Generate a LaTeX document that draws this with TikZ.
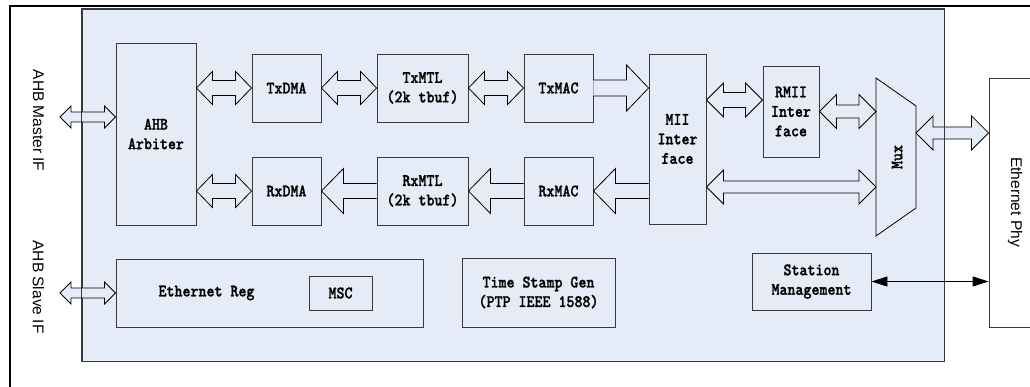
\documentclass[tikz,border=0pt]{standalone}
\usepackage{fontspec}
\usetikzlibrary{calc,arrows.meta}
\newfontfamily\simfont[FakeStretch=0.87,FakeBold=1.2]{lmmonolt10-bold.otf}
\newfontfamily\arialfont{Liberation Sans}
\definecolor{bgblue}{HTML}{E6ECF7}
\definecolor{edgegray}{HTML}{3A3A3A}
\newcommand\dblarrow[5]{%
  \filldraw[blockarrow] let \p1=#1, \p2=#2 in
   (\x1,\y1) -- (\x1+#5,\y1+#4) -- (\x1+#5,\y1+#3) -- (\x2-#5,\y1+#3) -- (\x2-#5,\y1+#4)
   -- (\x2,\y1) -- (\x2-#5,\y1-#4) -- (\x2-#5,\y1-#3) -- (\x1+#5,\y1-#3) -- (\x1+#5,\y1-#4) -- cycle;}
\newcommand\rarrow[5]{%
  \filldraw[blockarrow] let \p1=#1, \p2=#2 in
   (\x1,\y1+#3) -- (\x2-#5,\y1+#3) -- (\x2-#5,\y1+#4) -- (\x2,\y1) -- (\x2-#5,\y1-#4) -- (\x2-#5,\y1-#3) -- (\x1,\y1-#3);}
\newcommand\larrow[5]{%
  \filldraw[blockarrow] let \p1=#1, \p2=#2 in
   (\x1,\y1+#3) -- (\x2+#5,\y1+#3) -- (\x2+#5,\y1+#4) -- (\x2,\y1) -- (\x2+#5,\y1-#4) -- (\x2+#5,\y1-#3) -- (\x1,\y1-#3);}
\begin{document}
\begin{tikzpicture}[x=1pt,y=-1pt,
  box/.style={draw=edgegray, line width=0.9pt, fill=bgblue, inner sep=0pt, align=center,
    font=\simfont\fontsize{17.5pt}{19.5pt}\selectfont},
  lbl/.style={inner sep=0pt, align=center, font=\simfont\fontsize{17.5pt}{19.5pt}\selectfont},
  sidelbl/.style={inner sep=0pt, font=\arialfont\fontsize{15.5pt}{18pt}\selectfont},
  blockarrow/.style={draw=black, line width=0.8pt, fill=bgblue, line join=miter},
  thinarrow/.style={draw=black, line width=0.9pt, {Triangle[length=16pt,width=10pt]}-{Triangle[length=16pt,width=10pt]}}]
\useasboundingbox (0,0) rectangle (1030,387);
\clip (0,0) rectangle (1030,387);
\fill[white] (0,0) rectangle (1030,387);
% outer frame
\draw[line width=2.5pt] (10,400) -- (10,6) -- (1040,6);
% main box
\node[draw=edgegray, line width=0.9pt, fill=bgblue, minimum width=862pt, minimum height=352pt, inner sep=0pt] (main) at (513,185) {};
% blocks
\node[box, minimum width=80pt, minimum height=182pt] (arb) at (156,134) {AHB\\Arbiter};
\node[box, minimum width=69pt, minimum height=68pt] (txdma) at (286.5,88) {TxDMA};
\node[box, minimum width=69pt, minimum height=68pt] (rxdma) at (286.5,191) {RxDMA};
\node[box, minimum width=91pt, minimum height=68pt] (txmtl) at (422.5,88) {TxMTL\\(2k tbuf)};
\node[box, minimum width=91pt, minimum height=68pt] (rxmtl) at (422.5,191) {RxMTL\\(2k tbuf)};
\node[box, minimum width=69pt, minimum height=68pt] (txmac) at (558.5,88) {TxMAC};
\node[box, minimum width=69pt, minimum height=68pt] (rxmac) at (558.5,191) {RxMAC};
\node[box, minimum width=57pt, minimum height=170pt] (mii) at (677.5,139) {MII\\Inter\\face};
\node[box, minimum width=56pt, minimum height=91pt] (rmii) at (791,111.5) {RMII\\Inter\\face};
\draw[draw=black, line width=0.8pt, fill=bgblue] (876,78) -- (916,106) -- (916,208) -- (876,236) -- cycle;
\coordinate (muxw) at (876,157);
\coordinate (muxe) at (916,157);
\node[lbl, rotate=90] (muxlbl) at (897,157) {Mux};
\node[draw=edgegray, line width=0.9pt, fill=white, minimum width=60pt, minimum height=249pt, inner sep=0pt] (phy) at (1019,202.5) {};
\node[sidelbl, rotate=-90] (phylbl) at (1015,202) {Ethernet Phy};
\node[box, minimum width=307pt, minimum height=68pt] (ethreg) at (269.5,293) {};
\node[lbl] (ethlbl) at (206.5,293) {Ethernet Reg};
\node[box, minimum width=63pt, minimum height=34pt] (msc) at (340.5,293) {MSC};
\node[box, minimum width=153pt, minimum height=69pt] (tsg) at (538.5,292.5) {Time Stamp Gen\\(PTP IEEE 1588)};
\node[box, minimum width=119pt, minimum height=57pt] (stm) at (811.5,281.5) {Station\\Management};
% side labels
\node[sidelbl, rotate=-90] (mlbl) at (38.5,120.5) {AHB Master IF};
\node[sidelbl, rotate=-90] (slbl) at (38.5,287) {AHB Slave IF};
\coordinate (mif) at (60,117);
\coordinate (sif) at (60,293);
\coordinate (ya) at (0,100);
\coordinate (yb) at (0,187);
\coordinate (yc) at (916,133);
% block arrows
\dblarrow{(mif)}{(arb.west |- mif)}{5pt}{11pt}{11pt}
\dblarrow{(sif)}{(ethreg.west)}{5pt}{11pt}{11pt}
\dblarrow{(arb.east |- txdma.west)}{(txdma.west)}{7.5pt}{16.5pt}{16pt}
\dblarrow{(arb.east |- rxdma.west)}{(rxdma.west)}{7.5pt}{16.5pt}{16pt}
\dblarrow{(txdma.east)}{(txmtl.west)}{7.5pt}{16.5pt}{16pt}
\dblarrow{(txmtl.east)}{(txmac.west)}{7.5pt}{16.5pt}{16pt}
\rarrow{(txmac.east)}{(mii.west |- txmac.east)}{8pt}{23pt}{22pt}
\larrow{(mii.west |- rxmac.east)}{(rxmac.east)}{7.5pt}{22.5pt}{22pt}
\larrow{(rxmac.west)}{(rxmtl.east)}{7.5pt}{22.5pt}{22pt}
\larrow{(rxmtl.west)}{(rxdma.east)}{7.5pt}{22.5pt}{22pt}
\dblarrow{(mii.east |- ya)}{(rmii.west |- ya)}{7.5pt}{17pt}{17pt}
\dblarrow{(rmii.east)}{(muxw |- rmii.east)}{6.5pt}{17pt}{17pt}
\dblarrow{(mii.east |- yb)}{(muxw |- yb)}{6pt}{17pt}{17pt}
\dblarrow{(yc)}{(phy.west |- yc)}{6pt}{17pt}{17pt}
% main border over arrows
\draw[draw=edgegray, line width=0.9pt] (main.north west) rectangle (main.south east);
% station management link
\draw[thinarrow] (stm.east) -- (phy.west |- stm.east);
\end{tikzpicture}
\end{document}
